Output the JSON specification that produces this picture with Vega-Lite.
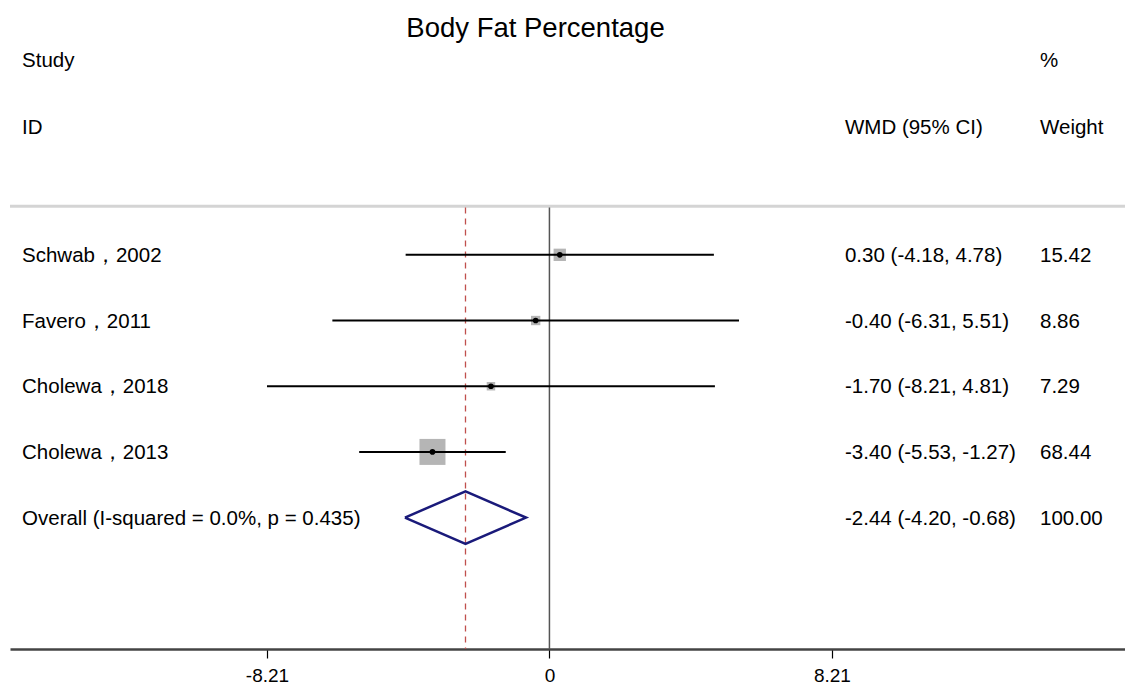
{
  "$schema": "https://vega.github.io/schema/vega-lite/v6.json",
  "width": 1115,
  "height": 609,
  "autosize": "none",
  "padding": {"left": 10, "top": 40, "right": 0, "bottom": 38},
  "background": "white",
  "view": {"stroke": null},
  "config": {"font": "Liberation Sans"},
  "title": {"text": "Body Fat Percentage", "fontSize": 27.5, "fontWeight": "normal", "font": "Liberation Sans", "color": "black", "anchor": "middle", "dx": -32, "offset": -24, "baseline": "alphabetic"},
  "datasets": {
    "studies": [
      {"study": "Schwab，2002", "est": 0.30, "lo": -4.18, "hi": 4.78, "ci": "0.30 (-4.18, 4.78)", "weight": 15.42, "wtxt": "15.42", "row": 0},
      {"study": "Favero，2011", "est": -0.40, "lo": -6.31, "hi": 5.51, "ci": "-0.40 (-6.31, 5.51)", "weight": 8.86, "wtxt": "8.86", "row": 1},
      {"study": "Cholewa，2018", "est": -1.70, "lo": -8.21, "hi": 4.81, "ci": "-1.70 (-8.21, 4.81)", "weight": 7.29, "wtxt": "7.29", "row": 2},
      {"study": "Cholewa，2013", "est": -3.40, "lo": -5.53, "hi": -1.27, "ci": "-3.40 (-5.53, -1.27)", "weight": 68.44, "wtxt": "68.44", "row": 3},
      {"study": "Overall  (I-squared = 0.0%, p = 0.435)", "est": -2.44, "lo": -4.20, "hi": -0.68, "ci": "-2.44 (-4.20, -0.68)", "weight": 100, "wtxt": "100.00", "row": 4}
    ],
    "diamond": [
      {"x": -4.20, "row": 4, "o": 0},
      {"x": -2.44, "row": 3.6, "o": 1},
      {"x": -0.68, "row": 4, "o": 2},
      {"x": -2.44, "row": 4.4, "o": 3},
      {"x": -4.20, "row": 4, "o": 4}
    ],
    "hstudy": [
      {"label": "Study", "row": -2.96},
      {"label": "ID", "row": -1.95}
    ],
    "hci": [
      {"label": "WMD (95% CI)", "row": -1.95}
    ],
    "hweight": [
      {"label": "%", "row": -2.96},
      {"label": "Weight", "row": -1.95}
    ]
  },
  "encoding": {
    "x": {"type": "quantitative", "scale": {"domain": [-15.68, 16.73], "nice": false, "zero": false}},
    "y": {"type": "quantitative", "scale": {"domain": [-3.27, 6], "reverse": true, "nice": false, "zero": false}}
  },
  "layer": [
    {
      "data": {"values": [{}]},
      "mark": {"type": "rule", "color": "#d4d4d4", "strokeWidth": 3},
      "encoding": {"y": {"datum": -0.74, "type": "quantitative", "axis": null}}
    },
    {
      "data": {"values": [{}]},
      "mark": {"type": "rule", "color": "#555555", "strokeWidth": 1.5},
      "encoding": {
        "x": {"datum": 0, "type": "quantitative", "axis": {"values": [-8.21, 0, 8.21], "labelExpr": "'' + datum.value", "grid": false, "title": null, "domainColor": "#444444", "domainWidth": 2.5, "tickColor": "black", "tickWidth": 1.2, "tickSize": 9, "labelFontSize": 19, "labelColor": "black", "labelPadding": 8, "labelFont": "Liberation Sans"}},
        "y": {"datum": -0.72, "type": "quantitative"},
        "y2": {"datum": 6}
      }
    },
    {
      "data": {"values": [{}]},
      "mark": {"type": "rule", "color": "#c0504d", "strokeWidth": 1.3, "strokeDash": [6, 5]},
      "encoding": {
        "x": {"datum": -2.44, "type": "quantitative"},
        "y": {"datum": -0.72, "type": "quantitative"},
        "y2": {"datum": 6}
      }
    },
    {
      "data": {"name": "studies"},
      "transform": [{"filter": "datum.row < 4"}],
      "mark": {"type": "square", "color": "#b5b5b5", "opacity": 1, "cornerRadius": 2},
      "encoding": {
        "x": {"field": "est"},
        "y": {"field": "row"},
        "size": {"field": "weight", "type": "quantitative", "scale": {"type": "linear", "domain": [0, 68.44], "range": [0, 676], "zero": true}, "legend": null}
      }
    },
    {
      "data": {"name": "studies"},
      "transform": [{"filter": "datum.row < 4"}],
      "mark": {"type": "rule", "color": "black", "strokeWidth": 2},
      "encoding": {
        "x": {"field": "lo"},
        "x2": {"field": "hi"},
        "y": {"field": "row"}
      }
    },
    {
      "data": {"name": "studies"},
      "transform": [{"filter": "datum.row < 4"}],
      "mark": {"type": "circle", "color": "black", "size": 32, "opacity": 1},
      "encoding": {
        "x": {"field": "est"},
        "y": {"field": "row"}
      }
    },
    {
      "data": {"name": "diamond"},
      "mark": {"type": "line", "color": "#1a1a7a", "strokeWidth": 2.5, "strokeJoin": "miter"},
      "encoding": {
        "x": {"field": "x"},
        "y": {"field": "row"},
        "order": {"field": "o", "type": "quantitative"}
      }
    },
    {
      "data": {"name": "studies"},
      "mark": {"type": "text", "align": "left", "baseline": "middle", "fontSize": 20.5, "color": "black", "dy": 1},
      "encoding": {
        "x": {"datum": -15.33, "type": "quantitative"},
        "y": {"field": "row"},
        "text": {"field": "study"}
      }
    },
    {
      "data": {"name": "studies"},
      "mark": {"type": "text", "align": "left", "baseline": "middle", "fontSize": 20.5, "color": "black", "dy": 1},
      "encoding": {
        "x": {"datum": 8.59, "type": "quantitative"},
        "y": {"field": "row"},
        "text": {"field": "ci"}
      }
    },
    {
      "data": {"name": "studies"},
      "mark": {"type": "text", "align": "left", "baseline": "middle", "fontSize": 20.5, "color": "black", "dy": 1},
      "encoding": {
        "x": {"datum": 14.26, "type": "quantitative"},
        "y": {"field": "row"},
        "text": {"field": "wtxt"}
      }
    },
    {
      "data": {"name": "hstudy"},
      "mark": {"type": "text", "align": "left", "baseline": "middle", "fontSize": 20.5, "color": "black", "dy": 1},
      "encoding": {
        "x": {"datum": -15.33, "type": "quantitative"},
        "y": {"field": "row"},
        "text": {"field": "label"}
      }
    },
    {
      "data": {"name": "hci"},
      "mark": {"type": "text", "align": "left", "baseline": "middle", "fontSize": 20.5, "color": "black", "dy": 1},
      "encoding": {
        "x": {"datum": 8.59, "type": "quantitative"},
        "y": {"field": "row"},
        "text": {"field": "label"}
      }
    },
    {
      "data": {"name": "hweight"},
      "mark": {"type": "text", "align": "left", "baseline": "middle", "fontSize": 20.5, "color": "black", "dy": 1},
      "encoding": {
        "x": {"datum": 14.26, "type": "quantitative"},
        "y": {"field": "row"},
        "text": {"field": "label"}
      }
    }
  ]
}
